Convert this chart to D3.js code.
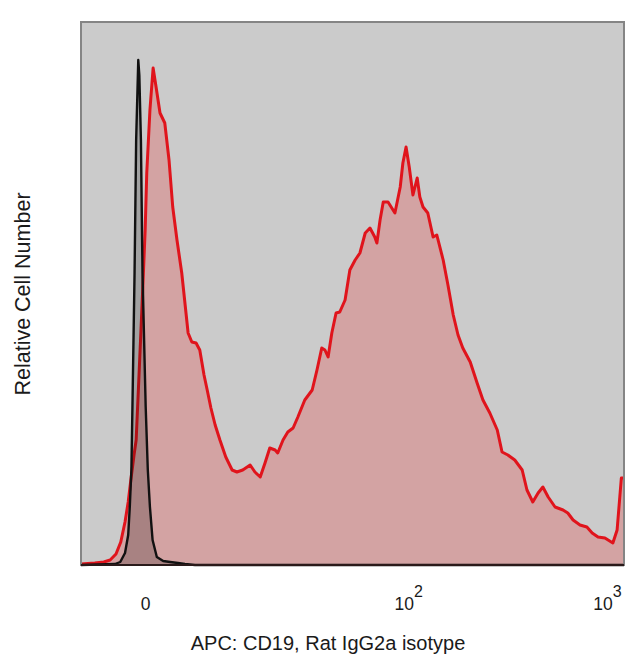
<!DOCTYPE html>
<html>
<head>
<meta charset="utf-8">
<script src="https://cdn.jsdelivr.net/npm/d3@7"></script>
<style>
  html, body { margin: 0; padding: 0; background: #fff; }
  svg { display: block; font-family: "Liberation Sans", Arial, sans-serif; }
</style>
</head>
<body>
<svg id="chart" width="640" height="672"></svg>
<script>
// Histogram data, 1024-channel display scale
// Stained sample (red): channel positions and counts
const stainedChannels = [0, 26, 43, 55, 66, 75, 83, 89, 94, 100, 104, 109, 115, 121, 124, 130, 136,
  141, 149, 158, 166, 173, 181, 190, 202, 209, 217, 224, 232, 238, 245, 253, 262, 273, 285, 294,
  305, 319, 328, 338, 347, 356, 366, 371, 381, 390, 400, 409, 422, 436, 445, 454, 460, 466, 473,
  481, 488, 498, 507, 517, 526, 536, 545, 554, 558, 564, 570, 579, 592, 602, 607, 613, 619, 626,
  634, 639, 645, 654, 664, 671, 683, 692, 702, 711, 720, 734, 747, 758, 771, 785, 794, 805, 818,
  832, 841, 852, 862, 871, 881, 894, 909, 918, 928, 941, 954, 964, 975, 988, 1003, 1011, 1019, 1024];
const stainedCounts = [1, 2, 3, 5, 11, 23, 43, 63, 85, 110, 125, 185, 258, 335, 392, 455, 497,
  480, 452, 442, 405, 358, 325, 292, 232, 223, 222, 215, 190, 175, 157, 140, 125, 108, 95, 93,
  95, 100, 93, 88, 102, 117, 115, 112, 125, 133, 137, 148, 165, 175, 195, 217, 215, 208, 232,
  252, 253, 265, 295, 305, 312, 332, 337, 328, 322, 345, 363, 363, 352, 378, 402, 418, 398, 370,
  387, 368, 358, 352, 328, 330, 305, 280, 250, 230, 217, 203, 182, 165, 152, 135, 113, 110, 105,
  95, 75, 63, 72, 78, 68, 58, 55, 52, 45, 40, 38, 32, 28, 27, 22, 35, 87, 87];

// Isotype control (black)
const isotypeChannels = [0, 64, 74, 83, 89, 92, 95, 97, 101, 104, 107, 108, 110, 113, 116, 122,
  126, 130, 135, 143, 155, 168, 183, 196, 215, 1024];
const isotypeCounts = [0, 1, 3, 12, 30, 58, 95, 158, 292, 425, 485, 505, 490, 425, 292, 158,
  95, 58, 25, 8, 4, 3, 2, 1, 0, 0];

// Axis ticks (channel position of each decade label)
const tickChannels = [121, 617, 992];
const tickBases = ["0", "10", "10"];
const tickExponents = ["", "2", "3"];

const xLabel = "APC: CD19, Rat IgG2a isotype";
const yLabel = "Relative Cell Number";

const margin = { top: 22, right: 16, bottom: 107, left: 81 };
const width = 640, height = 672;
const w = width - margin.left - margin.right;
const h = height - margin.top - margin.bottom;

const svg = d3.select("#chart");
const g = svg.append("g")
  .attr("transform", `translate(${margin.left},${margin.top})`);

const x = d3.scaleLinear().domain([0, 1024]).range([0, w]);
const y = d3.scaleLinear().domain([0, 543]).range([h, 0]);

const stained = stainedChannels.map((c, i) => ({ c, n: stainedCounts[i] }));
const isotype = isotypeChannels.map((c, i) => ({ c, n: isotypeCounts[i] }));

// Plot background
g.append("rect")
  .attr("width", w)
  .attr("height", h)
  .attr("fill", "#cbcbcb");

const area = d3.area()
  .x(d => x(d.c))
  .y0(y(0))
  .y1(d => y(d.n));

const line = d3.line()
  .x(d => x(d.c))
  .y(d => y(d.n));

// Stained histogram
g.append("path")
  .datum(stained)
  .attr("d", area)
  .attr("fill", "#d3a3a3");

g.append("path")
  .datum(stained)
  .attr("d", line)
  .attr("fill", "none")
  .attr("stroke", "#e0141c")
  .attr("stroke-width", 3)
  .attr("stroke-linejoin", "round");

// Isotype histogram on top
g.append("path")
  .datum(isotype)
  .attr("d", area)
  .attr("fill", "rgba(0,0,0,0.2)");

g.append("path")
  .datum(isotype)
  .attr("d", line)
  .attr("fill", "none")
  .attr("stroke", "#111")
  .attr("stroke-width", 2.4)
  .attr("stroke-linejoin", "round");

// Frame
g.append("rect")
  .attr("width", w)
  .attr("height", h)
  .attr("fill", "none")
  .attr("stroke", "#858585")
  .attr("stroke-width", 2);

g.append("line")
  .attr("x1", 0).attr("x2", w)
  .attr("y1", h).attr("y2", h)
  .attr("stroke", "#2a1a1a")
  .attr("stroke-width", 2);

// X axis: decade labels with superscript exponents
const xAxis = d3.axisBottom(x)
  .tickValues(tickChannels)
  .tickSize(0)
  .tickPadding(0)
  .tickFormat("");

const axisG = g.append("g")
  .attr("transform", `translate(0,${h})`)
  .call(xAxis)
  .call(a => a.select(".domain").remove());

axisG.selectAll(".tick text").remove();
axisG.selectAll(".tick").each(function(d, i) {
  const t = d3.select(this).append("text")
    .attr("y", 45)
    .attr("text-anchor", "middle")
    .attr("fill", "#1a1a1a")
    .attr("font-size", "17.5px");
  t.append("tspan").text(tickBases[i]);
  if (tickExponents[i]) {
    t.append("tspan")
      .attr("dy", -13)
      .attr("font-size", "16px")
      .text(tickExponents[i]);
  }
});

// Axis titles
svg.append("text")
  .attr("x", 328)
  .attr("y", 650)
  .attr("text-anchor", "middle")
  .attr("fill", "#1a1a1a")
  .attr("font-size", "20px")
  .text(xLabel);

svg.append("text")
  .attr("transform", "translate(30,294) rotate(-90)")
  .attr("text-anchor", "middle")
  .attr("fill", "#1a1a1a")
  .attr("font-size", "21.5px")
  .text(yLabel);
</script>
</body>
</html>
